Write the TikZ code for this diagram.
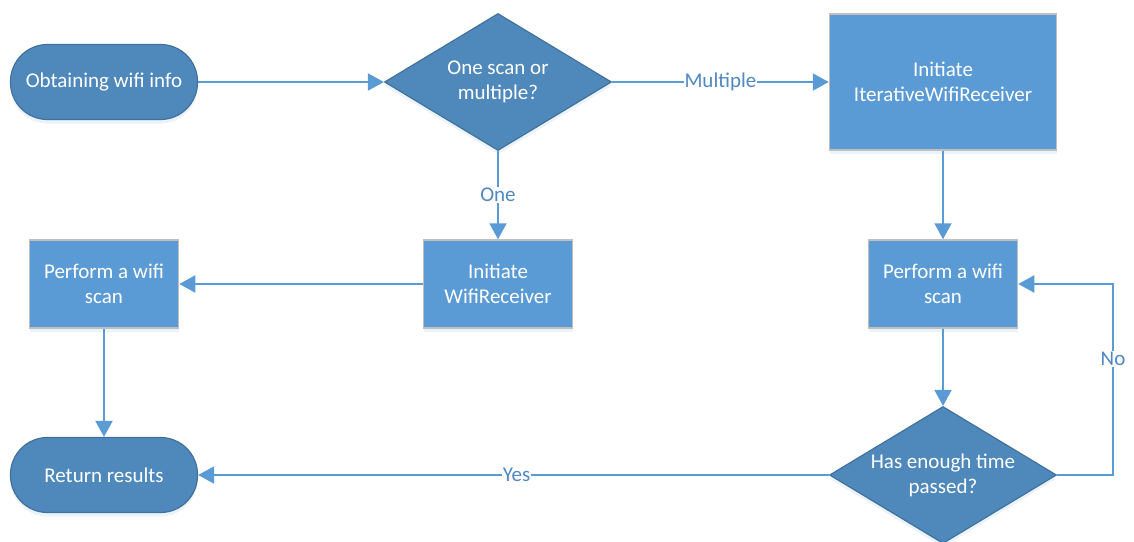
\documentclass[tikz,border=0pt]{standalone}
\usepackage{fontspec}
\setmainfont{Carlito}
\usetikzlibrary{shapes.geometric,arrows.meta,shadows}
\definecolor{darkblue}{HTML}{4F88BB}
\definecolor{darkedge}{HTML}{41719C}
\definecolor{boxblue}{HTML}{5B9BD5}
\definecolor{boxedge}{HTML}{BFBFBF}
\definecolor{linkblue}{HTML}{5B9BD5}
\definecolor{labelblue}{HTML}{4F88C2}
\begin{document}
\begin{tikzpicture}[x=1pt,y=-1pt,
  softshadow/.style={drop shadow={shadow xshift=0pt,shadow yshift=-4pt,opacity=0.12,fill=boxblue}},
  terminal/.style={draw=darkedge,line width=1.2pt,fill=darkblue,rounded corners=37pt,
    minimum width=187pt,minimum height=75pt,inner sep=0pt,text=white,align=center,
    font=\fontsize{21}{25}\selectfont,softshadow},
  decision/.style={diamond,draw=darkedge,line width=1.2pt,fill=darkblue,
    minimum width=227pt,minimum height=137pt,shape aspect=1.66,inner sep=0pt,text=white,
    align=center,font=\fontsize{21}{25}\selectfont,softshadow},
  process/.style={draw=boxedge,line width=1.5pt,fill=boxblue,text=white,align=center,
    inner sep=0pt,font=\fontsize{21}{25}\selectfont,softshadow},
  flow/.style={draw=linkblue,line width=2pt,-{Triangle[length=16pt,width=17pt]}},
  edgelabel/.style={fill=white,text=labelblue,inner sep=1pt,font=\fontsize{21}{24}\selectfont}]
\useasboundingbox (0,0) rectangle (1134,541);

% nodes
\node[terminal] (start) at (104,82) {Obtaining wifi info};
\node[decision] (choice) at (498,82) {One scan or\\multiple?};
\node[process,minimum width=227pt,minimum height=136pt] (iter) at (943,82) {Initiate\\IterativeWifiReceiver};
\node[process,minimum width=149pt,minimum height=88pt] (single) at (498,284) {Initiate\\WifiReceiver};
\node[process,minimum width=149pt,minimum height=88pt] (scanA) at (104,284) {Perform a wifi\\scan};
\node[process,minimum width=149pt,minimum height=88pt] (scanB) at (943,284) {Perform a wifi\\scan};
\node[decision] (enough) at (943,475) {Has enough time\\passed?};
\node[terminal] (done) at (104,475) {Return results};

% connectors
\draw[flow] (start) -- (choice);
\draw[flow] (choice) -- (iter) node[edgelabel,pos=0.5] {Multiple};
\draw[flow] (choice) -- (single) node[edgelabel,pos=0.5] {One};
\draw[flow] (single) -- (scanA);
\draw[flow] (scanA) -- (done);
\draw[flow] (iter) -- (scanB);
\draw[flow] (scanB) -- (enough);
\draw[flow] (enough) -- (done) node[edgelabel,pos=0.495] {Yes};
\coordinate (loop) at (1113,380);
\draw[flow] (enough.east) -| (loop) |- (scanB.east);
\node[edgelabel] (nolabel) at (1113,359) {No};
\end{tikzpicture}
\end{document}
